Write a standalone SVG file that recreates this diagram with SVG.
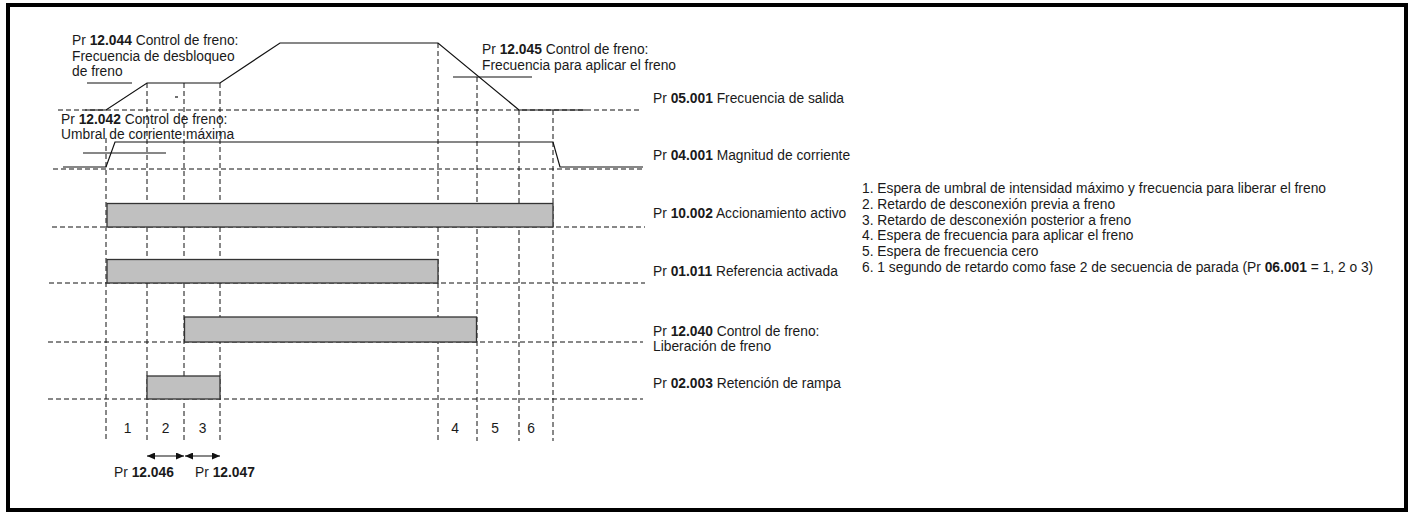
<svg xmlns="http://www.w3.org/2000/svg" width="1418" height="513" viewBox="0 0 1418 513">
<style>
.t{font-family:"Liberation Sans",Arial,sans-serif;font-size:13.8px;fill:#1a1a1a}
.b{font-weight:bold}
.d{stroke:#111;stroke-width:1;stroke-dasharray:5 3;fill:none}
.s{stroke:#111;stroke-width:1.2;fill:none}
.bar{fill:#c0c0c0;stroke:#333;stroke-width:1.3}
</style>
<defs>
<marker id="ah" viewBox="0 0 8 7" refX="8" refY="3.5" markerWidth="8" markerHeight="7" markerUnits="userSpaceOnUse" orient="auto-start-reverse">
<path d="M0,0 L8,3.5 L0,7 z" fill="#111"/>
</marker>
</defs>
<rect x="8" y="5" width="1398" height="505" fill="#fff" stroke="#000" stroke-width="4"/>

<g id="connectors">
<line class="d" x1="58" y1="110" x2="642" y2="110"/>
<line class="d" x1="53" y1="169" x2="643" y2="169"/>
<line class="d" x1="52" y1="227" x2="645" y2="227"/>
<line class="d" x1="49" y1="283" x2="645" y2="283"/>
<line class="d" x1="48" y1="342" x2="643" y2="342"/>
<line class="d" x1="48" y1="399" x2="643" y2="399"/>
<line class="d" x1="106" y1="138" x2="106" y2="441"/>
<line class="d" x1="147" y1="83" x2="147" y2="441"/>
<line class="d" x1="184" y1="83" x2="184" y2="441"/>
<line class="d" x1="220" y1="83" x2="220" y2="441"/>
<line class="d" x1="438" y1="43" x2="438" y2="441"/>
<line class="d" x1="477" y1="77" x2="477" y2="441"/>
<line class="d" x1="519" y1="110" x2="519" y2="441"/>
<line class="d" x1="553" y1="110" x2="553" y2="441"/>
<line class="s" x1="175" y1="97" x2="178" y2="97"/>
</g>

<g id="freq">
<polyline class="s" points="85,110 106,110 147,83 220,83 280,43 438,43 519,110 586,110"/>
<line class="s" x1="87" y1="83" x2="132" y2="83"/>
<line class="s" x1="453" y1="77" x2="532" y2="77"/>
<text class="t" x="72" y="45">Pr <tspan class="b">12.044</tspan> Control de freno:</text>
<text class="t" x="72" y="60.5">Frecuencia de desbloqueo</text>
<text class="t" x="72" y="76">de freno</text>
<text class="t" x="482" y="54">Pr <tspan class="b">12.045</tspan> Control de freno:</text>
<text class="t" x="482" y="69.5">Frecuencia para aplicar el freno</text>
<text class="t" x="653" y="103">Pr <tspan class="b">05.001</tspan> Frecuencia de salida</text>
</g>

<g id="current">
<polyline class="s" points="63,167 106,167 115,142 553,142 560,167 643,167"/>
<line class="s" x1="83" y1="153" x2="166" y2="153"/>
<text class="t" x="61" y="124">Pr <tspan class="b">12.042</tspan> Control de freno:</text>
<text class="t" x="61" y="139">Umbral de corriente máxima</text>
<text class="t" x="653" y="160">Pr <tspan class="b">04.001</tspan> Magnitud de corriente</text>
</g>

<g id="drive-active">
<rect class="bar" x="107" y="203.5" width="446" height="23.5"/>
<text class="t" x="653" y="218">Pr <tspan class="b">10.002</tspan> Accionamiento activo</text>
</g>

<g id="reference">
<rect class="bar" x="107" y="259.5" width="331" height="23.5"/>
<text class="t" x="653" y="275.5">Pr <tspan class="b">01.011</tspan> Referencia activada</text>
</g>

<g id="brake-release">
<rect class="bar" x="184.5" y="317" width="292" height="25"/>
<text class="t" x="653" y="336">Pr <tspan class="b">12.040</tspan> Control de freno:</text>
<text class="t" x="653" y="351">Liberación de freno</text>
</g>

<g id="ramp-hold">
<rect class="bar" x="147" y="376" width="73" height="23"/>
<text class="t" x="653" y="387.5">Pr <tspan class="b">02.003</tspan> Retención de rampa</text>
</g>

<g id="phases">
<text class="t" x="127.5" y="433" text-anchor="middle">1</text>
<text class="t" x="165.5" y="433" text-anchor="middle">2</text>
<text class="t" x="202.5" y="433" text-anchor="middle">3</text>
<text class="t" x="455" y="433" text-anchor="middle">4</text>
<text class="t" x="495" y="433" text-anchor="middle">5</text>
<text class="t" x="531" y="433" text-anchor="middle">6</text>
</g>

<g id="delays">
<line class="s" x1="147" y1="456" x2="184" y2="456" marker-start="url(#ah)" marker-end="url(#ah)"/>
<line class="s" x1="185" y1="456" x2="220" y2="456" marker-start="url(#ah)" marker-end="url(#ah)"/>
<text class="t" x="114" y="477">Pr <tspan class="b">12.046</tspan></text>
<text class="t" x="195" y="477">Pr <tspan class="b">12.047</tspan></text>
</g>

<g id="legend">
<text class="t" x="862" y="193">1. Espera de umbral de intensidad máximo y frecuencia para liberar el freno</text>
<text class="t" x="862" y="208.8">2. Retardo de desconexión previa a freno</text>
<text class="t" x="862" y="224.6">3. Retardo de desconexión posterior a freno</text>
<text class="t" x="862" y="240.4">4. Espera de frecuencia para aplicar el freno</text>
<text class="t" x="862" y="256.2">5. Espera de frecuencia cero</text>
<text class="t" x="862" y="272">6. 1 segundo de retardo como fase 2 de secuencia de parada (Pr <tspan class="b">06.001</tspan> = 1, 2 o 3)</text>
</g>
</svg>
